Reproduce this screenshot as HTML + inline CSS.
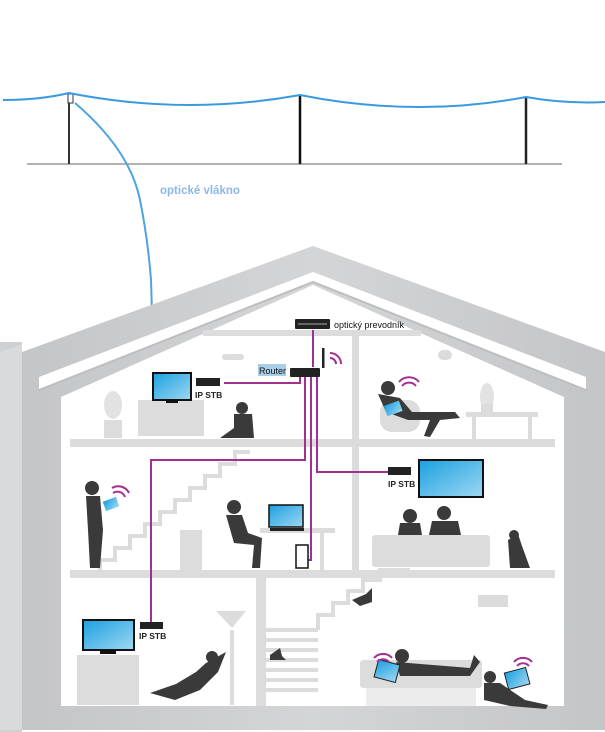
<!DOCTYPE html>
<html><head><meta charset="utf-8"><style>html,body{margin:0;padding:0;background:#fff}svg{display:block}</style></head>
<body>
<svg width="605" height="732" viewBox="0 0 605 732" xmlns="http://www.w3.org/2000/svg" font-family="Liberation Sans, sans-serif">
<defs>
<linearGradient id="scr" x1="0" y1="0" x2="1" y2="1"><stop offset="0" stop-color="#1aa0e0"/><stop offset="1" stop-color="#9fd8f2"/></linearGradient>
<linearGradient id="wall" x1="0" y1="0" x2="1" y2="0"><stop offset="0" stop-color="#c4c5c7"/><stop offset="0.5" stop-color="#d4d5d6"/><stop offset="1" stop-color="#c4c5c7"/></linearGradient>
</defs>
<!-- poles -->
<line x1="27" y1="164" x2="562" y2="164" stroke="#999" stroke-width="1.5"/>
<line x1="69" y1="94" x2="69" y2="164" stroke="#333" stroke-width="2"/>
<line x1="300" y1="95" x2="300" y2="164" stroke="#111" stroke-width="2.5"/>
<line x1="526" y1="97" x2="526" y2="164" stroke="#222" stroke-width="2.5"/>
<rect x="68" y="94" width="5" height="9" fill="#fff" stroke="#333" stroke-width="1"/>
<path d="M3 100 Q40 100 69 93 Q185 116 300 95 Q415 118 526 97 Q565 104 605 102" fill="none" stroke="#3a9ae0" stroke-width="2"/>
<path d="M75 103 Q130 150 140 200 Q148 240 151 280 L153 346 L313 287 L313 320" fill="none" stroke="#4ea3e2" stroke-width="2"/>
<text x="160" y="194" font-size="11.5" fill="#8bb8e8" font-weight="bold">optické vlákno</text>
<!-- house -->
<rect x="0" y="342" width="22" height="390" fill="#cfd0d2"/>
<path d="M22 352 L313 246 L605 352 L605 730 L22 730 Z" fill="url(#wall)"/>
<path d="M0 352 L22 344 L22 730 L0 730Z" fill="#d9dadb"/>
<path d="M61 397 L313 285 L564 397 L564 706 L61 706 Z" fill="#fff"/>
<path d="M39 377 L313 272 L586 377 L586 390 L313 282 L39 390 Z" fill="#fff"/>
<path d="M39 390 L313 282 L586 390" fill="none" stroke="#bdbebf" stroke-width="2"/>
<!-- structure -->
<rect x="70" y="439" width="485" height="8" fill="#dcdcdc"/>
<rect x="70" y="570" width="485" height="8" fill="#dcdcdc"/>
<rect x="203" y="330" width="218" height="6" fill="#dcdcdc"/>
<rect x="352" y="330" width="7" height="240" fill="#dcdcdc"/>
<rect x="256" y="578" width="10" height="128" fill="#dcdcdc"/>
<!-- stairs middle -->
<path d="M100 570 L100 560 L115 560 L115 548 L130 548 L130 536 L145 536 L145 524 L160 524 L160 512 L175 512 L175 500 L190 500 L190 488 L205 488 L205 476 L220 476 L220 464 L235 464 L235 452 L250 452" fill="none" stroke="#dcdcdc" stroke-width="4"/>
<!-- stairs bottom -->
<path d="M266 680 H318 M266 690 H318 M266 670 H318 M266 660 H318 M266 650 H318 M266 640 H318 M266 630 H318" stroke="#dcdcdc" stroke-width="4"/>
<path d="M318 630 L318 615 L333 615 L333 603 L348 603 L348 591 L363 591 L363 580 L380 580 L380 570 L410 570" fill="none" stroke="#dcdcdc" stroke-width="4"/>
<!-- furniture -->
<rect x="138" y="400" width="66" height="36" fill="#dcdcdc"/>
<rect x="466" y="412" width="72" height="5" fill="#dcdcdc"/><rect x="472" y="417" width="4" height="22" fill="#dcdcdc"/><rect x="528" y="417" width="4" height="22" fill="#dcdcdc"/>
<rect x="104" y="420" width="18" height="18" fill="#dcdcdc"/><ellipse cx="113" cy="405" rx="9" ry="14" fill="#e2e2e2"/>
<ellipse cx="487" cy="397" rx="7" ry="14" fill="#e2e2e2"/><rect x="481" y="404" width="12" height="8" fill="#dcdcdc"/>
<rect x="222" y="354" width="22" height="6" rx="3" fill="#dcdcdc"/><rect x="438" y="350" width="14" height="10" rx="5" fill="#dcdcdc"/>
<rect x="372" y="535" width="118" height="32" rx="3" fill="#dcdcdc"/>
<rect x="180" y="530" width="22" height="40" fill="#dcdcdc"/>
<rect x="260" y="528" width="75" height="5" fill="#dcdcdc"/><rect x="320" y="533" width="4" height="37" fill="#dcdcdc"/>
<rect x="77" y="655" width="62" height="50" fill="#dcdcdc"/>
<rect x="230" y="630" width="4" height="75" fill="#dcdcdc"/><path d="M216 611 L246 611 L232 628Z" fill="#dcdcdc"/>
<rect x="360" y="660" width="122" height="28" rx="3" fill="#dcdcdc"/><rect x="366" y="688" width="110" height="18" fill="#ececec"/>
<rect x="478" y="595" width="30" height="12" fill="#dcdcdc"/>
<rect x="380" y="400" width="40" height="32" rx="12" fill="#dcdcdc"/>
<!-- people silhouettes -->
<g fill="#3a3a3a">
<circle cx="242" cy="408" r="6"/><path d="M234 414 L252 414 L254 438 L220 438 L234 428Z"/>
<circle cx="388" cy="388" r="7"/><path d="M378 394 L400 398 L412 412 L455 412 L460 418 L440 420 L430 437 L424 436 L430 420 L408 420 L386 412Z"/>
<circle cx="92" cy="488" r="7"/><path d="M86 496 L100 496 L103 530 L100 568 L90 568 L88 530Z"/>
<circle cx="234" cy="507" r="7"/><path d="M226 515 L242 515 L248 533 L262 538 L260 568 L252 568 L254 545 L234 543 Z"/>
<circle cx="410" cy="516" r="7"/><path d="M400 523 L420 523 L422 535 L398 535Z"/>
<circle cx="444" cy="513" r="7"/><path d="M432 521 L458 521 L461 535 L429 535Z"/>
<path d="M508 540 L518 534 L522 546 L530 568 L510 568 Z"/><circle cx="514" cy="535" r="5"/>
<circle cx="212" cy="657" r="6"/><path d="M206 663 L226 652 L218 672 L200 690 L175 700 L150 693 L176 684 L196 672Z"/>
<circle cx="402" cy="656" r="7"/><path d="M396 662 L470 668 L474 655 L480 662 L470 676 L400 676Z"/>
<circle cx="490" cy="677" r="6"/><path d="M484 683 L500 683 L525 700 L548 705 L546 709 L510 706 L484 700Z"/>
<path d="M352 600 L366 594 L372 588 L372 602 L360 606Z"/>
<path d="M270 655 L280 648 L282 656 L286 660 L270 660Z"/>
</g>
<!-- wires -->
<g fill="none" stroke="#a23090" stroke-width="2">
<path d="M313 330 L313 367"/>
<path d="M300 376 L300 383 L224 383"/>
<path d="M305 376 L305 460 L151 460 L151 626"/>
<path d="M311 376 L311 560 L306 560"/>
<path d="M317 376 L317 472 L388 472"/>
</g>
<!-- devices -->
<rect x="295" y="319" width="35" height="10" rx="1" fill="#222"/><rect x="298" y="323" width="29" height="2" fill="#666"/>
<text x="334" y="328" font-size="9" fill="#111">optický prevodník</text>
<rect x="258" y="364" width="28" height="12" fill="#a9cfe8"/>
<text x="259" y="374" font-size="9" fill="#111">Router</text>
<rect x="290" y="368" width="30" height="9" rx="1" fill="#222"/><rect x="322" y="348" width="2.5" height="20" fill="#222"/>
<g fill="none" stroke="#a23090" stroke-width="2"><path d="M330 358 a6 6 0 0 1 6 6"/><path d="M330 353 a11 11 0 0 1 11 11"/></g>
<rect x="153" y="373" width="38" height="27" fill="url(#scr)" stroke="#111" stroke-width="2"/><rect x="166" y="400" width="12" height="3" fill="#111"/>
<rect x="196" y="378" width="24" height="8" fill="#222"/>
<text x="195" y="398" font-size="8.5" font-weight="bold" fill="#222">IP STB</text>
<rect x="388" y="467" width="23" height="8" fill="#222"/>
<text x="388" y="487" font-size="8.5" font-weight="bold" fill="#222">IP STB</text>
<rect x="419" y="460" width="64" height="37" fill="url(#scr)" stroke="#111" stroke-width="2"/>
<rect x="269" y="505" width="34" height="22" fill="url(#scr)" stroke="#111" stroke-width="1.5"/><rect x="270" y="528" width="34" height="3" fill="#222"/>
<rect x="296" y="545" width="12" height="23" fill="#fff" stroke="#111" stroke-width="1.5"/>
<rect x="140" y="622" width="23" height="7" fill="#222"/>
<text x="139" y="639" font-size="8.5" font-weight="bold" fill="#222">IP STB</text>
<rect x="83" y="620" width="51" height="30" fill="url(#scr)" stroke="#111" stroke-width="2"/><rect x="100" y="650" width="16" height="4" fill="#111"/>
<rect x="385" y="403" width="16" height="11" fill="url(#scr)" transform="rotate(-20 393 408)"/>
<rect x="104" y="499" width="14" height="10" fill="url(#scr)" transform="rotate(-20 111 504)"/>
<rect x="376" y="662" width="22" height="18" fill="url(#scr)" stroke="#222" transform="rotate(15 387 671)"/>
<rect x="506" y="670" width="22" height="17" fill="url(#scr)" stroke="#222" transform="rotate(-15 517 678)"/>
<g fill="none" stroke="#a23090" stroke-width="2">
<path d="M402 386 a9 9 0 0 1 14 0"/><path d="M399 382 a13 13 0 0 1 20 0"/>
<path d="M113 493 a8 8 0 0 1 12 4"/><path d="M112 488 a12 12 0 0 1 17 5"/>
<path d="M377 662 a8 8 0 0 1 12 0"/><path d="M374 658 a12 12 0 0 1 18 0"/>
<path d="M517 666 a8 8 0 0 1 12 0"/><path d="M514 662 a12 12 0 0 1 18 0"/>
</g>
</svg>
</body></html>
